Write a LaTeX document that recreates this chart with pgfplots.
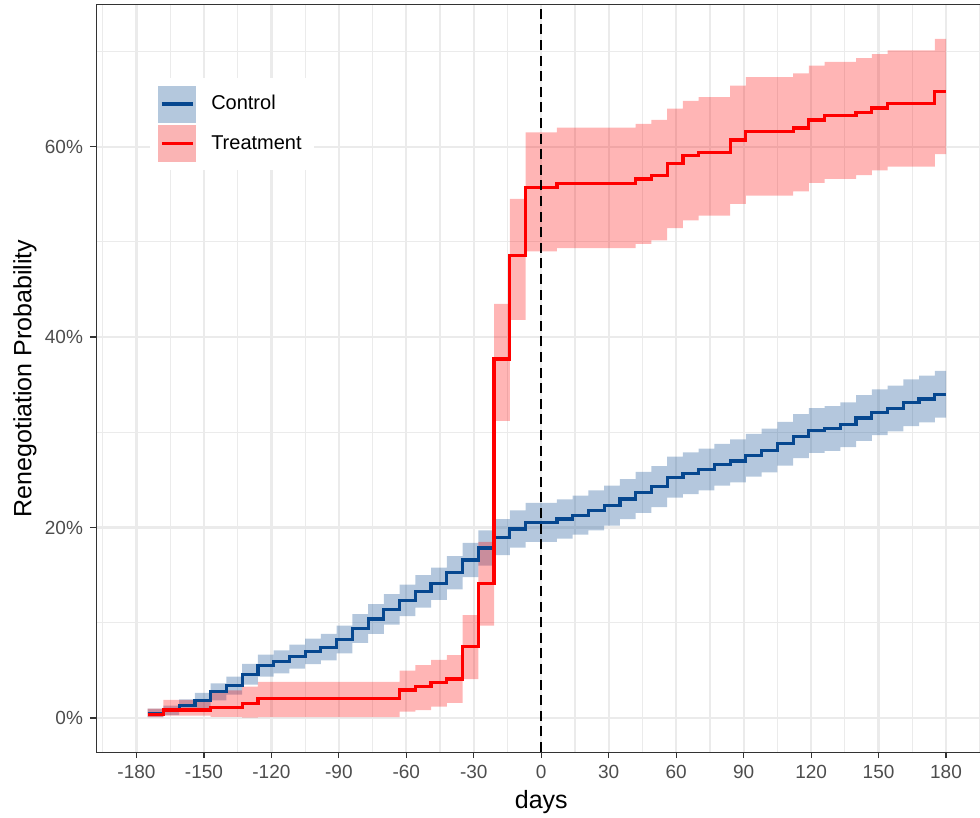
\documentclass[border=0pt]{standalone}
\usepackage{fontspec}
\setmainfont{Liberation Sans}
\usepackage{pgfplots}
\pgfplotsset{compat=1.18}
\usepackage{pgfplotstable}
\usepgfplotslibrary{fillbetween}

\definecolor{ctrlcol}{HTML}{06478F}
\definecolor{ctrlkey}{HTML}{B4C8DD}
\definecolor{trtcol}{HTML}{FF0000}
\definecolor{trtkey}{HTML}{FAB4B4}
\definecolor{gridc}{HTML}{EBEBEB}
\definecolor{framec}{HTML}{333333}
\definecolor{tickc}{HTML}{4D4D4D}

% Control: step value and band (lo, hi), in percent
\pgfplotstableread{
x y lo hi
-175 0.45 0.12 1.00
-168 0.80 0.30 1.30
-161 1.30 0.65 1.95
-154 1.85 1.05 2.65
-147 2.75 1.85 3.65
-140 3.40 2.45 4.35
-133 4.60 3.50 5.70
-126 5.50 4.35 6.65
-119 5.90 4.70 7.10
-112 6.45 5.20 7.70
-105 7.00 5.65 8.35
-98 7.45 6.05 8.85
-91 8.25 6.80 9.70
-84 9.40 7.90 10.90
-77 10.40 8.85 11.95
-70 11.40 9.80 13.00
-63 12.35 10.70 14.00
-56 13.30 11.60 15.00
-49 14.10 12.40 15.80
-42 15.25 13.50 17.00
-35 16.60 14.80 18.40
-28 17.85 16.00 19.70
-21 19.00 17.10 20.90
-14 19.85 17.90 21.80
-7 20.55 18.50 22.60
7 20.90 18.85 22.95
14 21.30 19.25 23.35
21 21.80 19.70 23.90
28 22.30 20.20 24.40
35 23.00 20.90 25.10
42 23.70 21.55 25.85
49 24.30 22.15 26.45
56 25.30 23.15 27.45
63 25.70 23.50 27.90
70 26.10 23.90 28.30
77 26.60 24.40 28.80
84 27.00 24.75 29.25
91 27.60 25.35 29.85
98 28.10 25.80 30.40
105 28.80 26.50 31.10
112 29.60 27.30 31.90
119 30.20 27.85 32.55
126 30.40 28.05 32.75
133 30.80 28.45 33.15
140 31.50 29.10 33.90
147 32.10 29.70 34.50
154 32.50 30.10 34.90
161 33.10 30.65 35.55
168 33.50 31.05 35.95
175 34.00 31.55 36.45
180 34.00 31.55 36.45
}\ctrl

% Treatment
\pgfplotstableread{
x y lo hi
-175 0.40 0.07 1.00
-168 0.85 0.25 1.90
-147 1.15 0.12 2.90
-133 1.50 0.05 3.30
-126 2.05 0.10 3.80
-63 2.95 0.67 4.97
-56 3.30 0.84 5.57
-49 3.75 1.19 6.10
-42 4.10 1.60 6.60
-35 7.50 4.10 10.80
-28 14.15 9.70 18.50
-21 37.70 31.20 43.50
-14 48.60 41.80 54.50
-7 55.70 49.00 61.50
7 56.10 49.35 62.00
42 56.60 49.80 62.40
49 57.00 50.15 62.80
56 58.20 51.45 64.00
63 59.05 52.25 64.80
70 59.40 52.75 65.20
84 60.70 54.00 66.40
91 61.60 54.85 67.30
112 61.95 55.30 67.70
119 62.80 56.20 68.50
126 63.25 56.60 68.90
140 63.60 57.00 69.30
147 64.05 57.50 69.70
154 64.55 57.90 70.10
175 65.75 59.20 71.30
180 65.75 59.20 71.30
}\trt

\begin{document}
\begin{tikzpicture}
\begin{axis}[
    name=ax,
    scale only axis,
    width=445.25pt, height=373.5pt,
    xmin=-198, xmax=198, ymin=-3.565, ymax=74.87,
    xtick={-180,-150,...,180},
    xticklabels={-180,-150,-120,-90,-60,-30,0,30,60,90,120,150,180},
    ytick={0,20,40,60},
    yticklabels={0\%,20\%,40\%,60\%},
    minor xtick={-195,-165,...,195},
    minor ytick={10,30,50,70},
    grid=both,
    major grid style={gridc, line width=1.1pt},
    minor grid style={gridc, line width=0.6pt},
    axis line style={framec, line width=0.5pt},
    tick align=outside, tick pos=left,
    major tick length=3pt, minor tick length=0pt,
    tick style={framec, line width=0.6pt},
    ticklabel style={font=\fontsize{9.5}{11}\selectfont, text=tickc},
    xlabel={days}, ylabel={Renegotiation Probability},
    label style={font=\fontsize{12.5}{15}\selectfont},
    xlabel style={at={(axis description cs:0.5,0)}, anchor=center, yshift=-25pt},
    ylabel style={at={(axis description cs:0,0.5)}, anchor=center, yshift=35.5pt},
    legend style={at={(axis description cs:0.0607,0.9033)}, anchor=north west,
        draw=none, fill=white, font=\fontsize{10}{12}\selectfont,
        inner xsep=4pt, inner ysep=4pt, row sep=1.5pt, column sep=5.5pt,
        cells={anchor=west}},
]
% Control band and line
\addplot[const plot, draw=none, forget plot, name path=cu] table[x=x, y=hi] {\ctrl};
\addplot[const plot, draw=none, forget plot, name path=cl] table[x=x, y=lo] {\ctrl};
\addplot[fill=ctrlcol, fill opacity=0.3, draw=none, forget plot] fill between[of=cu and cl];
\addplot[const plot, ctrlcol, line width=1.6pt, forget plot] table[x=x, y=y] {\ctrl};

% Treatment band and line
\addplot[const plot, draw=none, forget plot, name path=tu] table[x=x, y=hi] {\trt};
\addplot[const plot, draw=none, forget plot, name path=tl] table[x=x, y=lo] {\trt};
\addplot[fill=trtcol, fill opacity=0.29, draw=none, forget plot] fill between[of=tu and tl];
\addplot[const plot, trtcol, line width=1.6pt, forget plot] table[x=x, y=y] {\trt};

% day 0
\addplot[black, line width=1.1pt, dash pattern=on 5pt off 2.8pt, forget plot]
    coordinates {(0,-3.565) (0,74.87)};

\addlegendimage{legend image code/.code={%
    \fill[ctrlkey] (0pt,-9pt) rectangle (18.5pt,9pt);
    \draw[ctrlcol, line width=1.6pt] (1.5pt,0pt) -- (17pt,0pt);}}
\addlegendentry{Control}
\addlegendimage{legend image code/.code={%
    \fill[trtkey] (0pt,-9pt) rectangle (18.5pt,9pt);
    \draw[trtcol, line width=1.6pt] (1.5pt,0pt) -- (17pt,0pt);}}
\addlegendentry{Treatment}
\end{axis}
\pgfresetboundingbox
\path[use as bounding box] ([xshift=-48pt,yshift=-32.5pt]ax.south west)
    rectangle ([xshift=-3.25pt,yshift=2.5pt]ax.north east);
\end{tikzpicture}
\end{document}
